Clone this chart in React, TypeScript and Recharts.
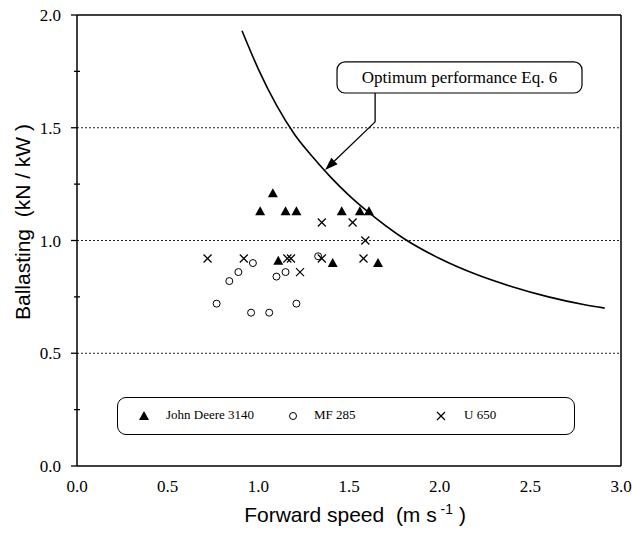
import React from 'react';
import {
  ComposedChart,
  XAxis,
  YAxis,
  Line,
  Scatter,
  ReferenceLine,
  ReferenceArea,
  ReferenceDot,
  Legend,
} from 'recharts';

// tick values
const xTicks = [0, 0.5, 1, 1.5, 2, 2.5, 3];
const yTicks = [0, 0.5, 1, 1.5, 2];
const yMinorTicks = [0.25, 0.75, 1.25, 1.75];
const gridLevels = [0.5, 1, 1.5];

// measured points (forward speed, ballasting)
const johnDeere = [
  { x: 1.01, y: 1.13 }, { x: 1.08, y: 1.21 }, { x: 1.15, y: 1.13 }, { x: 1.21, y: 1.13 },
  { x: 1.46, y: 1.13 }, { x: 1.56, y: 1.13 }, { x: 1.61, y: 1.13 },
  { x: 1.11, y: 0.91 }, { x: 1.41, y: 0.9 }, { x: 1.66, y: 0.9 },
];
const mf285 = [
  { x: 0.97, y: 0.9 }, { x: 1.33, y: 0.93 }, { x: 0.89, y: 0.86 }, { x: 1.15, y: 0.86 },
  { x: 1.1, y: 0.84 }, { x: 0.84, y: 0.82 }, { x: 0.77, y: 0.72 }, { x: 1.21, y: 0.72 },
  { x: 0.96, y: 0.68 }, { x: 1.06, y: 0.68 },
];
const u650 = [
  { x: 0.72, y: 0.92 }, { x: 0.92, y: 0.92 }, { x: 1.16, y: 0.92 }, { x: 1.18, y: 0.92 },
  { x: 1.35, y: 0.92 }, { x: 1.58, y: 0.92 }, { x: 1.23, y: 0.86 }, { x: 1.35, y: 1.08 },
  { x: 1.52, y: 1.08 }, { x: 1.59, y: 1.0 },
];

// optimum performance curve (Eq. 6)
const optimumCurve = [
  { x: 0.91, y: 1.93 }, { x: 1.0, y: 1.76 }, { x: 1.1, y: 1.6 }, { x: 1.2, y: 1.47 },
  { x: 1.3, y: 1.37 }, { x: 1.4, y: 1.28 }, { x: 1.5, y: 1.2 }, { x: 1.6, y: 1.13 },
  { x: 1.8, y: 1.01 }, { x: 2.0, y: 0.92 }, { x: 2.2, y: 0.85 }, { x: 2.4, y: 0.795 },
  { x: 2.6, y: 0.75 }, { x: 2.8, y: 0.715 }, { x: 2.91, y: 0.7 },
];

const serif = '"Liberation Serif", "Times New Roman", serif';
const sans = '"Liberation Sans", Arial, sans-serif';

const Triangle = ({ cx, cy }: any) => (
  <polygon points={`${cx},${cy - 5} ${cx - 5},${cy + 4} ${cx + 5},${cy + 4}`} fill="#000" />
);
const Ring = ({ cx, cy }: any) => <circle cx={cx} cy={cy} r={3.5} fill="none" stroke="#000" strokeWidth={1} />;
const Cross = ({ cx, cy }: any) => (
  <g stroke="#000" strokeWidth={1.2}>
    <line x1={cx - 4} y1={cy - 4} x2={cx + 4} y2={cy + 4} />
    <line x1={cx - 4} y1={cy + 4} x2={cx + 4} y2={cy - 4} />
  </g>
);

const LegendBox = () => {
  const item = (left: number, text: string, symbol: React.ReactNode, textLeft: number) => (
    <>
      <svg width={12} height={12} style={{ position: 'absolute', left: left - 6, top: 12 }}>
        {symbol}
      </svg>
      <span style={{ position: 'absolute', left: textLeft, top: 9, whiteSpace: 'nowrap' }}>{text}</span>
    </>
  );
  return (
    <div
      style={{
        position: 'relative',
        width: 456,
        height: 36,
        border: '1px solid #000',
        borderRadius: 9,
        fontFamily: serif,
        fontSize: 13,
        color: '#000',
      }}
    >
      {item(26, 'John Deere 3140', <Triangle cx={6} cy={6} />, 48)}
      {item(175, 'MF 285', <Ring cx={6} cy={6} />, 196)}
      {item(323, 'U 650', <Cross cx={6} cy={6} />, 346)}
    </div>
  );
};

const Leader = ({ x1, y1, x2, y2, arrow }: any) => {
  if (!arrow) return <line x1={x1} y1={y1} x2={x2} y2={y2} stroke="#000" strokeWidth={1.3} />;
  const ang = Math.atan2(y2 - y1, x2 - x1);
  const len = 13;
  const w = 4.5;
  const bx = x2 - len * Math.cos(ang);
  const by = y2 - len * Math.sin(ang);
  const px = -Math.sin(ang) * w;
  const py = Math.cos(ang) * w;
  return (
    <g>
      <line x1={x1} y1={y1} x2={bx} y2={by} stroke="#000" strokeWidth={1.3} />
      <polygon points={`${x2},${y2} ${bx + px},${by + py} ${bx - px},${by - py}`} fill="#000" />
    </g>
  );
};

export default function App() {
  return (
    <div style={{ position: 'absolute', left: 0, top: 0, background: '#fff' }}>
      <ComposedChart width={632} height={535} margin={{ top: 15, right: 11, bottom: 39, left: 17 }}>
        <XAxis
          type="number"
          dataKey="x"
          domain={[0, 3]}
          ticks={xTicks}
          height={30}
          tickLine={false}
          tickSize={0}
          tickMargin={14}
          axisLine={{ stroke: '#000', strokeWidth: 1.5 }}
          tick={{ fontFamily: serif, fontSize: 17, fill: '#000' }}
          tickFormatter={(v: number) => v.toFixed(1)}
          label={{
            content: ({ viewBox }: any) => (
              <text x={viewBox.x + viewBox.width / 2 + 6} y={522} textAnchor="middle" fontFamily={sans} fontSize={21} fill="#000">
                Forward speed{'\u00a0\u00a0'}(m s
                <tspan dy={-8} fontSize={14}> -1</tspan>
                <tspan dy={8}> )</tspan>
              </text>
            ),
          }}
        />
        <YAxis
          type="number"
          dataKey="y"
          domain={[0, 2]}
          ticks={yTicks}
          width={60}
          tickSize={6}
          tickMargin={10}
          tickLine={{ stroke: '#000', strokeWidth: 1.3 }}
          axisLine={{ stroke: '#000', strokeWidth: 1.5 }}
          tick={{ fontFamily: serif, fontSize: 17, fill: '#000' }}
          tickFormatter={(v: number) => v.toFixed(1)}
          label={{
            content: () => (
              <text x={30} y={222} transform="rotate(-90 30 222)" textAnchor="middle" fontFamily={sans} fontSize={21} fill="#000">
                Ballasting{'\u00a0\u00a0'}(kN / kW )
              </text>
            ),
          }}
        />

        {gridLevels.map((v) => (
          <ReferenceLine key={v} y={v} stroke="#222" strokeWidth={1} strokeDasharray="2 2" />
        ))}
        <ReferenceLine y={2} stroke="#000" strokeWidth={1.5} />
        <ReferenceLine x={3} stroke="#000" strokeWidth={1.5} />
        {yMinorTicks.map((v) => (
          <ReferenceDot
            key={v}
            x={0}
            y={v}
            r={0}
            shape={({ cx, cy }: any) => <line x1={cx - 3} y1={cy} x2={cx + 3} y2={cy} stroke="#000" strokeWidth={1.3} />}
          />
        ))}

        <ReferenceArea
          x1={1.434}
          x2={2.785}
          y1={1.654}
          y2={1.792}
          shape={({ x, y, width, height }: any) => (
            <g>
              <rect x={x} y={y} width={width} height={height} rx={8} fill="#fff" stroke="#000" strokeWidth={1.2} />
              <text x={x + width / 2} y={y + height / 2 + 6} textAnchor="middle" fontFamily={serif} fontSize={17} fill="#000">
                Optimum performance Eq. 6
              </text>
            </g>
          )}
        />
        <ReferenceLine segment={[{ x: 1.644, y: 1.654 }, { x: 1.644, y: 1.526 }]} shape={(p: any) => <Leader {...p} />} />
        <ReferenceLine segment={[{ x: 1.644, y: 1.526 }, { x: 1.368, y: 1.313 }]} shape={(p: any) => <Leader {...p} arrow />} />

        <Line data={optimumCurve} dataKey="y" type="monotone" stroke="#000" strokeWidth={1.6} dot={false} isAnimationActive={false} legendType="none" />
        <Scatter name="John Deere 3140" data={johnDeere} shape={Triangle} isAnimationActive={false} />
        <Scatter name="MF 285" data={mf285} shape={Ring} isAnimationActive={false} />
        <Scatter name="U 650" data={u650} shape={Cross} isAnimationActive={false} />

        <Legend
          layout="horizontal"
          verticalAlign="middle"
          wrapperStyle={{ left: 117, top: 397, width: 458, height: 38 }}
          content={() => <LegendBox />}
        />
      </ComposedChart>
    </div>
  );
}
